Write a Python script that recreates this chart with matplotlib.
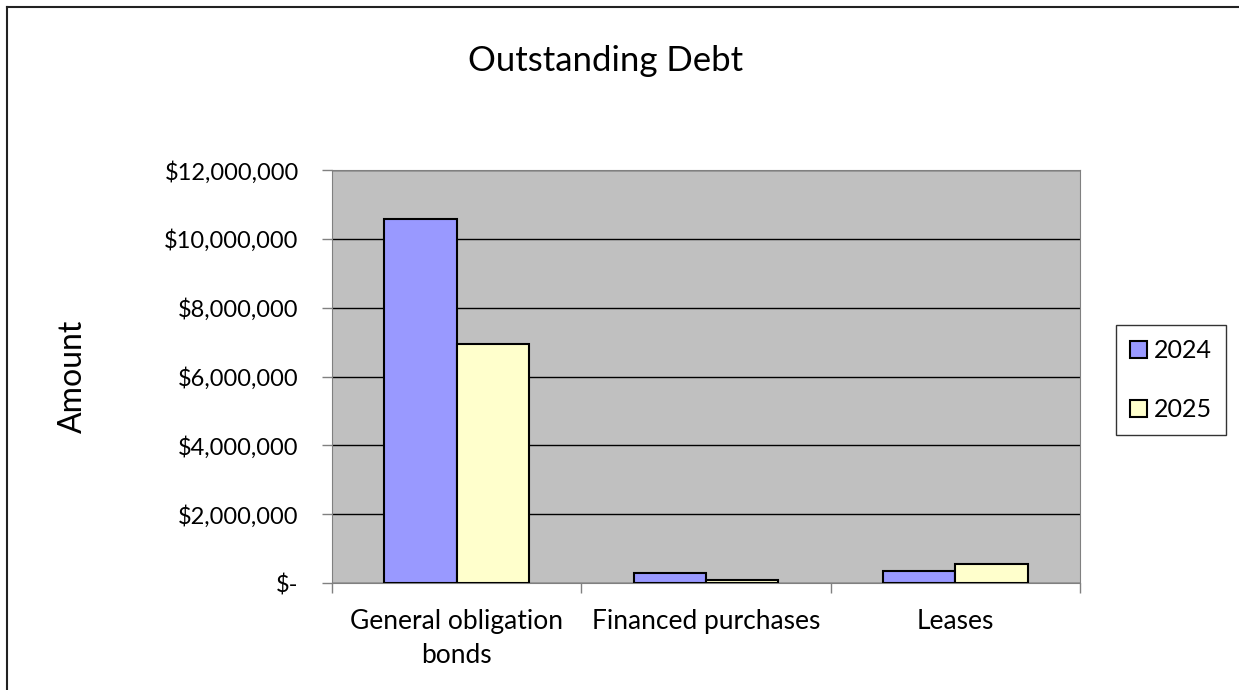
import numpy as np
import matplotlib
matplotlib.use('Agg')
import matplotlib.pyplot as plt
from matplotlib.lines import Line2D
from matplotlib.ticker import FuncFormatter

plt.rcParams['font.family'] = ['Lato', 'DejaVu Sans']

# data
categories = ['General obligation\nbonds', 'Financed purchases', 'Leases']
years = ['2024', '2025']
debt_2024 = [10580000, 300000, 360000]
debt_2025 = [6940000, 90000, 550000]

fig = plt.figure(figsize=(12.39, 6.90), dpi=100)
ax = fig.add_axes([0.268, 0.155, 0.6037, 0.5986])
ax.set_facecolor('#C0C0C0')

x = np.arange(len(categories))
w = 0.29
ax.bar(x - w/2, debt_2024, w, color='#9999FF', edgecolor='black', linewidth=1.5, label=years[0], zorder=3)
ax.bar(x + w/2, debt_2025, w, color='#FFFFCC', edgecolor='black', linewidth=1.5, label=years[1], zorder=3)

ax.set_xlim(-0.5, len(categories) - 0.5)
ax.set_ylim(0, 12000000)
ax.set_yticks(np.arange(0, 12000001, 2000000))
ax.yaxis.set_major_formatter(FuncFormatter(lambda v, p: '$-' if v == 0 else '${:,.0f}'.format(v)))
ax.grid(axis='y', color='black', linewidth=1, zorder=1)

ax.set_xticks(x)
ax.set_xticklabels(categories, fontsize=19, linespacing=1.45)
ax.set_xticks(np.arange(-0.5, len(categories)), minor=True)
ax.tick_params(axis='x', which='major', length=0, pad=19)
ax.tick_params(axis='x', which='minor', length=7, width=1, color='#808080')
ax.tick_params(axis='y', length=7, width=1, color='#808080', labelsize=17, pad=17)

for s in ['top', 'right', 'left', 'bottom']:
    ax.spines[s].set_color('#808080')

ax.set_ylabel('Amount', fontsize=23, labelpad=55)
fig.text(0.489, 0.912, 'Outstanding Debt', ha='center', va='center', fontsize=25)

leg = fig.legend(loc='center', bbox_to_anchor=(0.945, 0.449), fontsize=18,
                 handlelength=0.7, handleheight=0.7, handletextpad=0.25,
                 labelspacing=1.45, frameon=True, fancybox=False,
                 borderpad=0.55, borderaxespad=0, edgecolor='black')
leg.get_frame().set_linewidth(1)

# chart border (left and top only visible)
fig.add_artist(Line2D([0.0056, 0.0056], [0, 0.99], color='#222222', linewidth=1.5))
fig.add_artist(Line2D([0.0056, 1.0], [0.99, 0.99], color='#222222', linewidth=1.5))

fig.savefig('out.png', dpi=100)
